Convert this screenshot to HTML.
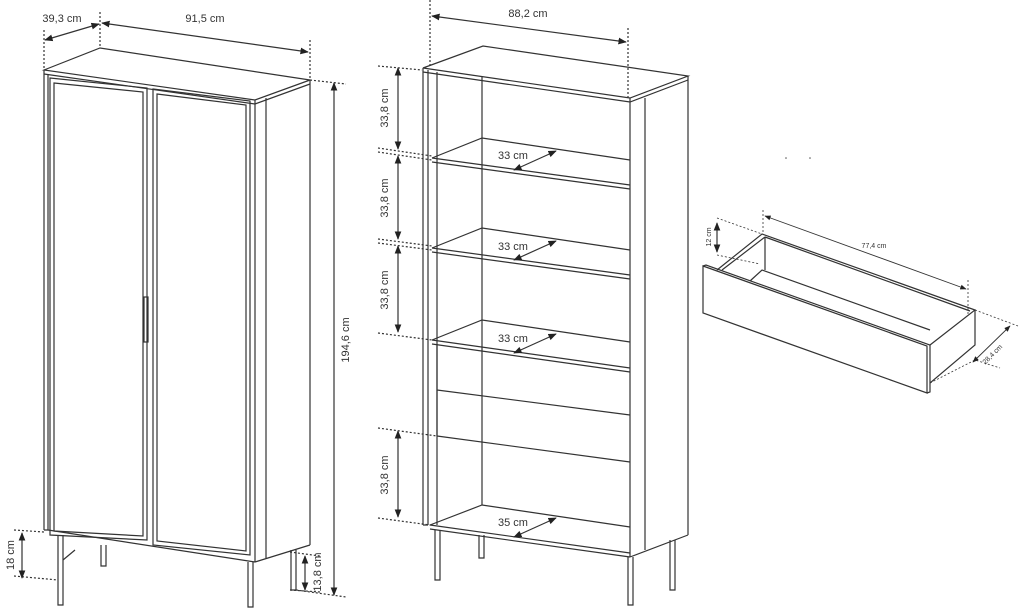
<!DOCTYPE html>
<html><head><meta charset="utf-8"><style>
html,body{margin:0;padding:0;background:#fff}
svg{display:block}
text{font-family:"Liberation Sans",sans-serif;fill:#333}
</style></head><body>
<svg width="1020" height="611" viewBox="0 0 1020 611" xmlns="http://www.w3.org/2000/svg">
<defs>
<marker id="a" viewBox="0 0 10 10" refX="9" refY="5" markerWidth="7" markerHeight="7" orient="auto-start-reverse"><path d="M0,1L10,5L0,9z" fill="#222"/></marker>
</defs>
<g stroke="#333" stroke-width="1.2" fill="none">
<!-- LEFT CABINET -->
<path d="M44,70 L100,48 L310,80 L255,100 Z"/>
<path d="M44,74 L255,104 L310,84"/>
<path d="M44,70 V530 M48,74 V530 M44,530 H48"/>
<path d="M50,78 L147,88 L147,540 L50,535 Z"/>
<path d="M54,83 L143,92 L143,536 L54,531 Z"/>
<path d="M153,89 L250,101 L250,555 L153,545 Z"/>
<path d="M157,94 L246,105 L246,551 L157,541 Z"/>
<rect x="144" y="297" width="4" height="45"/>
<path d="M255,100 V562 M310,80 V545 M266,98 V558 M255,562 L310,545 M48,530 L255,562"/>
<path d="M58,535 V605 H63 V535 M101,545 V566 H106 V545 M248,562 V607 H253 V562 M291,550 V590 H296 V550"/>
<path d="M63,560 L75,550"/>
<!-- dims left -->
<path d="M44,30 V68 M100,12 V46 M310,40 V78" stroke-dasharray="2,2"/>
<path d="M45,40 L99,24" marker-start="url(#a)" marker-end="url(#a)"/>
<path d="M102,23 L308,52" marker-start="url(#a)" marker-end="url(#a)"/>
<path d="M310,80 L346,84 M296,590 L346,597" stroke-dasharray="2,2"/>
<path d="M334,83 V595" marker-start="url(#a)" marker-end="url(#a)"/>
<path d="M14,530 L44,532 M14,576 L58,580 M290,552 L320,556 M290,590 L320,592" stroke-dasharray="2,2"/>
<path d="M22,533 V578" marker-start="url(#a)" marker-end="url(#a)"/>
<path d="M305,556 V590" marker-start="url(#a)" marker-end="url(#a)"/>
<!-- MIDDLE CABINET -->
<path d="M423,68 L483,46 L688,76 L630,98 Z"/>
<path d="M423,72 L630,102 L688,80"/>
<path d="M423,68 V525 M428,70 V525 M423,525 H428"/>
<path d="M437,72 V525 M482,76 V505"/>
<path d="M630,98 V557 M688,76 V535 M645,98 V550 M630,557 L688,535"/>
<!-- shelves -->
<path d="M432,158 L482,138 L630,160 M432,158 L630,185 M432,162 L630,189"/>
<path d="M432,248 L482,228 L630,250 M432,248 L630,275 M432,252 L630,279"/>
<path d="M432,340 L482,320 L630,342 M432,340 L630,368 M432,344 L630,372"/>
<path d="M437,344 V436 M437,390 L630,415 M437,436 L630,462"/>
<path d="M430,525 L482,505 L630,527 M430,525 L630,553 M430,529 L630,557"/>
<path d="M435,530 V580 H440 V530 M479,535 V558 H484 V535 M628,557 V605 H633 V557 M670,540 V590 H675 V540"/>
<!-- dims middle -->
<path d="M430,0 V68 M628,28 V98" stroke-dasharray="2,2"/>
<path d="M432,16 L626,42" marker-start="url(#a)" marker-end="url(#a)"/>
<path d="M378,66 L422,70 M378,148 L432,156 M378,152 L432,160 M378,239 L432,246 M378,243 L432,250 M378,333 L432,340 M378,428 L437,436 M378,518 L430,525" stroke-dasharray="2,2"/>
<path d="M398,68 V149" marker-start="url(#a)" marker-end="url(#a)"/>
<path d="M398,156 V239" marker-start="url(#a)" marker-end="url(#a)"/>
<path d="M398,246 V332" marker-start="url(#a)" marker-end="url(#a)"/>
<path d="M398,431 V517" marker-start="url(#a)" marker-end="url(#a)"/>
<path d="M514,170 L556,151" marker-start="url(#a)" marker-end="url(#a)"/>
<path d="M514,260 L556,241" marker-start="url(#a)" marker-end="url(#a)"/>
<path d="M514,353 L556,334" marker-start="url(#a)" marker-end="url(#a)"/>
<path d="M514,537 L556,518" marker-start="url(#a)" marker-end="url(#a)"/>
<!-- DRAWER -->
<path d="M703,266 L927,346 L927,393 L703,313 Z"/>
<path d="M703,266 L706,265 L930,345 L930,392 L927,393"/>
<path d="M717,270 L762,234 L975,310 L930,345"/>
<path d="M722,270 L765,237 M765,237 V270 M765,237 L970,311"/>
<path d="M975,310 V345 L930,383"/>
<path d="M750,281 L762,270 L930,330"/>
<path d="M717,218 L762,234 M717,255 L760,264 M763,210 V234 M968,280 V315 M975,310 L1018,326 M930,383 L975,360 L1000,368" stroke-dasharray="2,2" stroke-width="0.8"/>
<path d="M717,223 V252" marker-start="url(#a)" marker-end="url(#a)"/>
<path d="M765,216 L966,289" marker-start="url(#a)" marker-end="url(#a)" stroke-width="0.9"/>
<path d="M1010,326 L973,362" marker-start="url(#a)" marker-end="url(#a)" stroke-width="0.9"/>
</g>
<g font-size="11">
<text x="62" y="22" text-anchor="middle">39,3 cm</text>
<text x="205" y="22" text-anchor="middle">91,5 cm</text>
<text transform="translate(349,340) rotate(-90)" text-anchor="middle">194,6 cm</text>
<text transform="translate(14,555) rotate(-90)" text-anchor="middle">18 cm</text>
<text transform="translate(321,572) rotate(-90)" text-anchor="middle">13,8 cm</text>
<text x="528" y="17" text-anchor="middle">88,2 cm</text>
<text transform="translate(388,108) rotate(-90)" text-anchor="middle">33,8 cm</text>
<text transform="translate(388,198) rotate(-90)" text-anchor="middle">33,8 cm</text>
<text transform="translate(388,290) rotate(-90)" text-anchor="middle">33,8 cm</text>
<text transform="translate(388,475) rotate(-90)" text-anchor="middle">33,8 cm</text>
<text x="513" y="159" text-anchor="middle">33 cm</text>
<text x="513" y="250" text-anchor="middle">33 cm</text>
<text x="513" y="342" text-anchor="middle">33 cm</text>
<text x="513" y="526" text-anchor="middle">35 cm</text>
</g>
<g font-size="7">
<text transform="translate(711,237) rotate(-90)" text-anchor="middle">12 cm</text>
<text x="874" y="248" text-anchor="middle">77,4 cm</text>
<text transform="translate(994,356) rotate(-45)" text-anchor="middle">28,4 cm</text>
</g>
<circle cx="786" cy="158" r="0.8" fill="#555"/><circle cx="810" cy="158" r="0.8" fill="#555"/>
</svg>
</body></html>
